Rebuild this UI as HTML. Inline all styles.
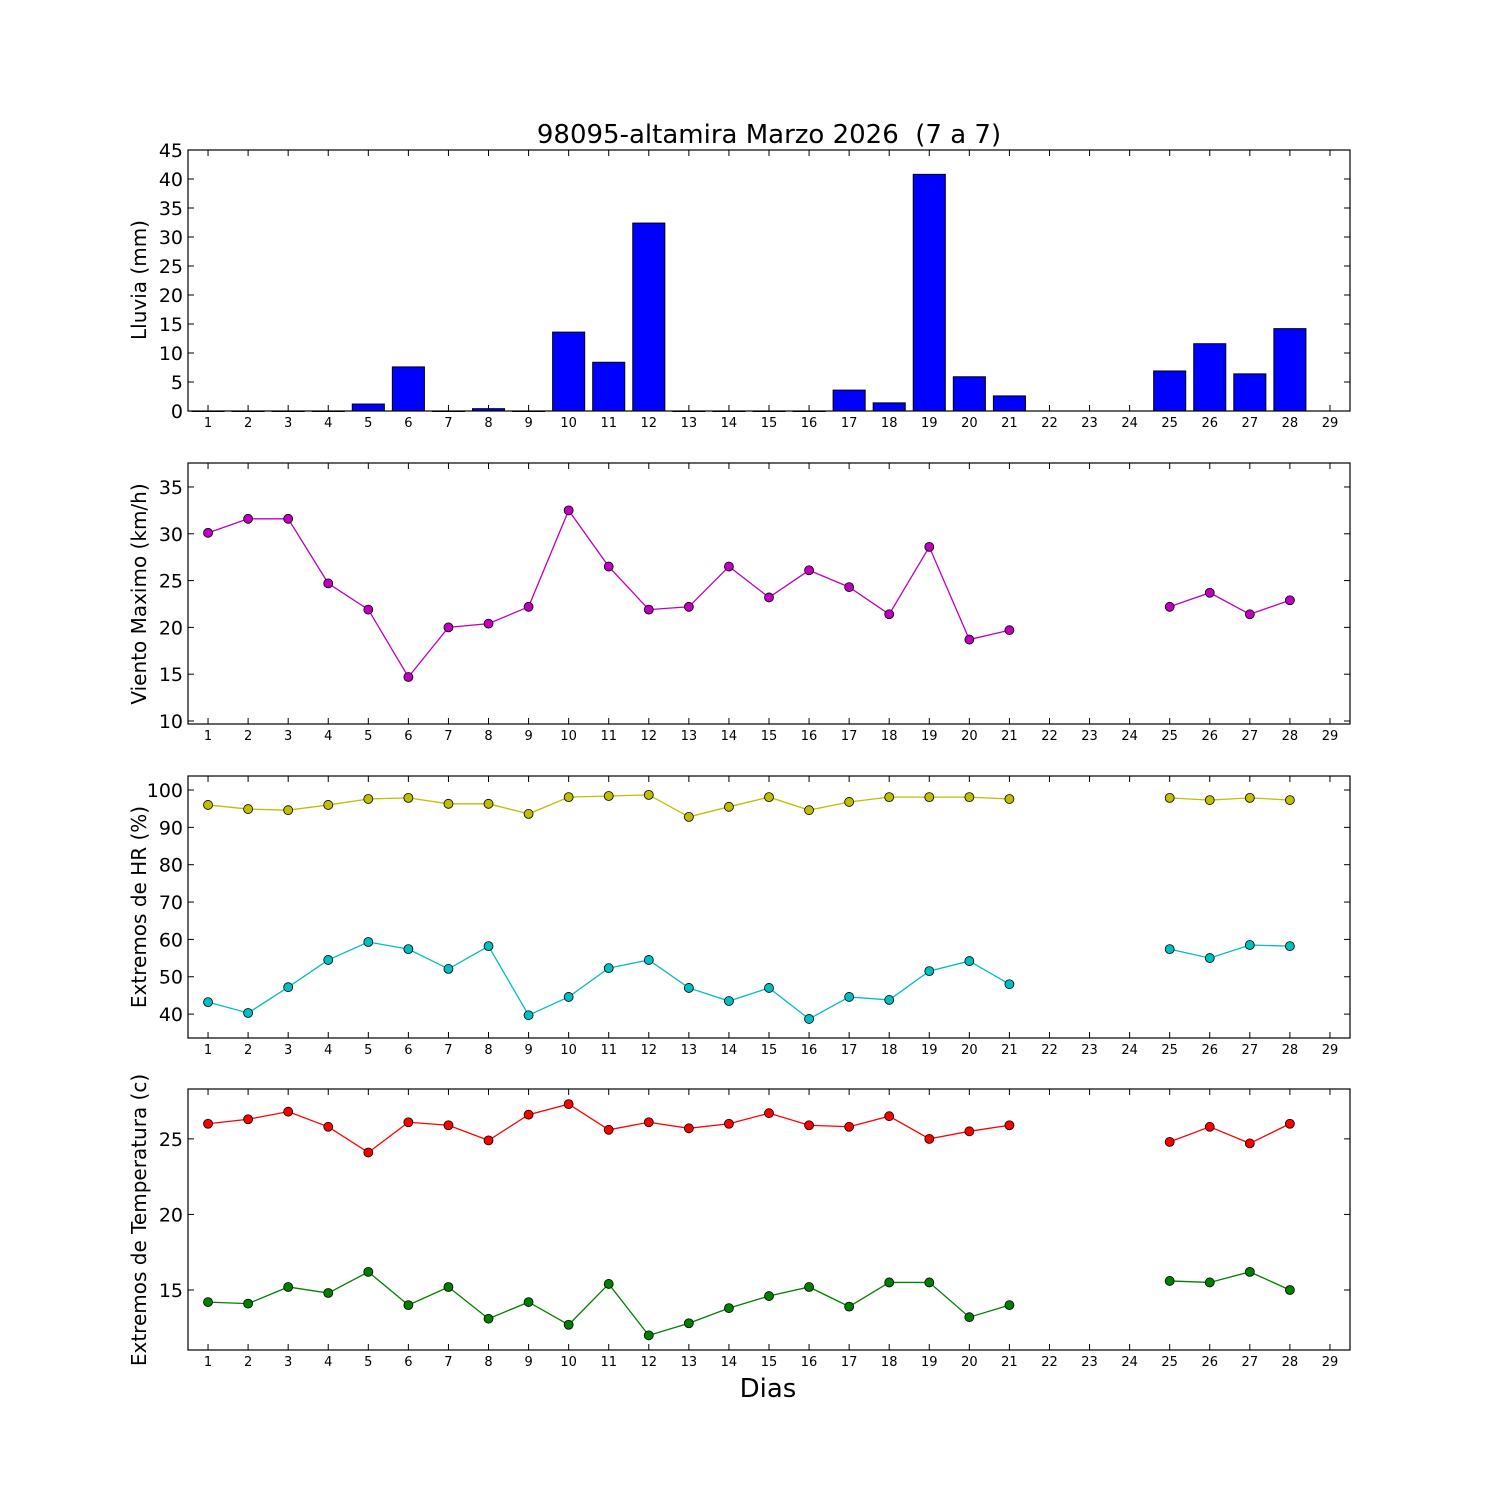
<!DOCTYPE html>
<html><head><meta charset="utf-8"><style>
html,body{margin:0;padding:0;background:#fff;}
svg{display:block;font-family:"DejaVu Sans","Liberation Sans",sans-serif;}
</style></head><body>
<svg id="chart" width="1500" height="1500" viewBox="0 0 1500 1500" xmlns="http://www.w3.org/2000/svg">
<rect width="1500" height="1500" fill="#fff"/>
<text x="769" y="143" font-size="26" text-anchor="middle" style="white-space:pre" xml:space="preserve">98095-altamira Marzo 2026  (7 a 7)</text>
<text x="768" y="1397" font-size="26" text-anchor="middle">Dias</text>
</svg>
<script>
const days = [1,2,3,4,5,6,7,8,9,10,11,12,13,14,15,16,17,18,19,20,21,22,23,24,25,26,27,28,29];
const rain = [0,0,0,0,1.2,7.6,0,0.4,0,13.6,8.4,32.4,0,0,0,0,3.6,1.4,40.8,5.9,2.6,null,null,null,6.9,11.6,6.4,14.2,null];
const wind = [30.1,31.6,31.6,24.7,21.9,14.7,20.0,20.4,22.2,32.5,26.5,21.9,22.2,26.5,23.2,26.1,24.3,21.4,28.6,18.7,19.7,null,null,null,22.2,23.7,21.4,22.9,null];
const hrMax = [96,94.9,94.6,96,97.6,97.9,96.3,96.3,93.6,98.1,98.4,98.7,92.8,95.5,98.1,94.6,96.8,98.1,98.1,98.1,97.6,null,null,null,97.9,97.3,97.9,97.3,null];
const hrMin = [43.2,40.3,47.2,54.5,59.3,57.4,52.1,58.2,39.7,44.6,52.3,54.5,47,43.5,47,38.7,44.6,43.8,51.5,54.2,48,null,null,null,57.4,55,58.5,58.2,null];
const tMax = [26,26.3,26.8,25.8,24.1,26.1,25.9,24.9,26.6,27.3,25.6,26.1,25.7,26,26.7,25.9,25.8,26.5,25,25.5,25.9,null,null,null,24.8,25.8,24.7,26,null];
const tMin = [14.2,14.1,15.2,14.8,16.2,14,15.2,13.1,14.2,12.7,15.4,12,12.8,13.8,14.6,15.2,13.9,15.5,15.5,13.2,14,null,null,null,15.6,15.5,16.2,15,null];
const rainTicks = [0,5,10,15,20,25,30,35,40,45];
const windTicks = [10,15,20,25,30,35];
const hrTicks = [40,50,60,70,80,90,100];
const tTicks = [15,20,25];

const NS="http://www.w3.org/2000/svg";
const svg=document.getElementById('chart');
function el(tag,attrs,parent){const e=document.createElementNS(NS,tag);for(const k in attrs)e.setAttribute(k,attrs[k]);(parent||svg).appendChild(e);return e;}
const L=188,R=1350;
function xs(d){return L+(d-0.5)/29*(R-L);}

function panel(name,top,bot,ymin,ymax,ticks,ylabel,labelY){
  const g=el('g',{});
  
  
  const ys=v=>bot-(v-ymin)/(ymax-ymin)*(bot-top);
  ticks.forEach(t=>{
    const y=ys(t);
    el('line',{x1:L,x2:L+6,y1:y,y2:y,stroke:'#000'},g);
    el('line',{x1:R-6,x2:R,y1:y,y2:y,stroke:'#000'},g);
    const tx=el('text',{x:L-5,y:y+7,'font-size':19,'text-anchor':'end'},g);
    tx.textContent=t;
    
    
  });
  days.forEach(d=>{
    const x=xs(d);
    el('line',{x1:x,x2:x,y1:bot,y2:bot-6,stroke:'#000'},g);
    el('line',{x1:x,x2:x,y1:top,y2:top+6,stroke:'#000'},g);
    const tx=el('text',{x:x,y:bot+16,'font-size':13,'text-anchor':'middle'},g);
    tx.textContent=d;
    
    
  });
  const yl=el('text',{x:0,y:0,'font-size':20,'text-anchor':'middle',transform:`translate(146,${labelY}) rotate(-90)`},g);
  yl.textContent=ylabel;
  
  
  return {g,ys,top,bot};
}
function frame(p){el('rect',{x:L,y:p.top,width:R-L,height:p.bot-p.top,fill:'none',stroke:'#000','stroke-width':1.2},p.g);}
function series(p,vals,color,name){
  let seg=[];
  const segs=[];
  vals.forEach((v,i)=>{if(v===null){if(seg.length)segs.push(seg);seg=[];}else seg.push([xs(days[i]),p.ys(v)]);});
  if(seg.length)segs.push(seg);
  segs.forEach(s=>{
    const pl=el('polyline',{points:s.map(q=>q.join(',')).join(' '),fill:'none',stroke:color,'stroke-width':1.3},p.g);
    
    
  });
  vals.forEach((v,i)=>{
    if(v===null)return;
    const c=el('circle',{cx:xs(days[i]),cy:p.ys(v),r:4.5,fill:color,stroke:'#000','stroke-width':0.8},p.g);
    
    
  });
}

const p1=panel('rain',150,411,0,45,rainTicks,'Lluvia (mm)',280);
rain.forEach((v,i)=>{
  if(v===null)return;
  const w=0.8/29*(R-L);
  const b=el('rect',{x:xs(days[i])-w/2,y:p1.ys(v),width:w,height:Math.max(0.5,p1.ys(0)-p1.ys(v)),fill:'#0000ff',stroke:'#000','stroke-width':1},p1.g);
  
  
});
frame(p1);

const p2=panel('wind',463,724,9.68,37.56,windTicks,'Viento Maximo (km/h)',594);
series(p2,wind,'#bf00bf','wind-max');
frame(p2);

const p3=panel('humidity',776,1038,33.6,103.75,hrTicks,'Extremos de HR (%)',907);
series(p3,hrMax,'#bfbf00','humidity-max');
series(p3,hrMin,'#00bfbf','humidity-min');
frame(p3);

const p4=panel('temperature',1089,1350,11.03,28.3,tTicks,'Extremos de Temperatura (c)',1220);
series(p4,tMax,'#ff0000','temperature-max');
series(p4,tMin,'#008000','temperature-min');
frame(p4);
</script>
</body></html>
